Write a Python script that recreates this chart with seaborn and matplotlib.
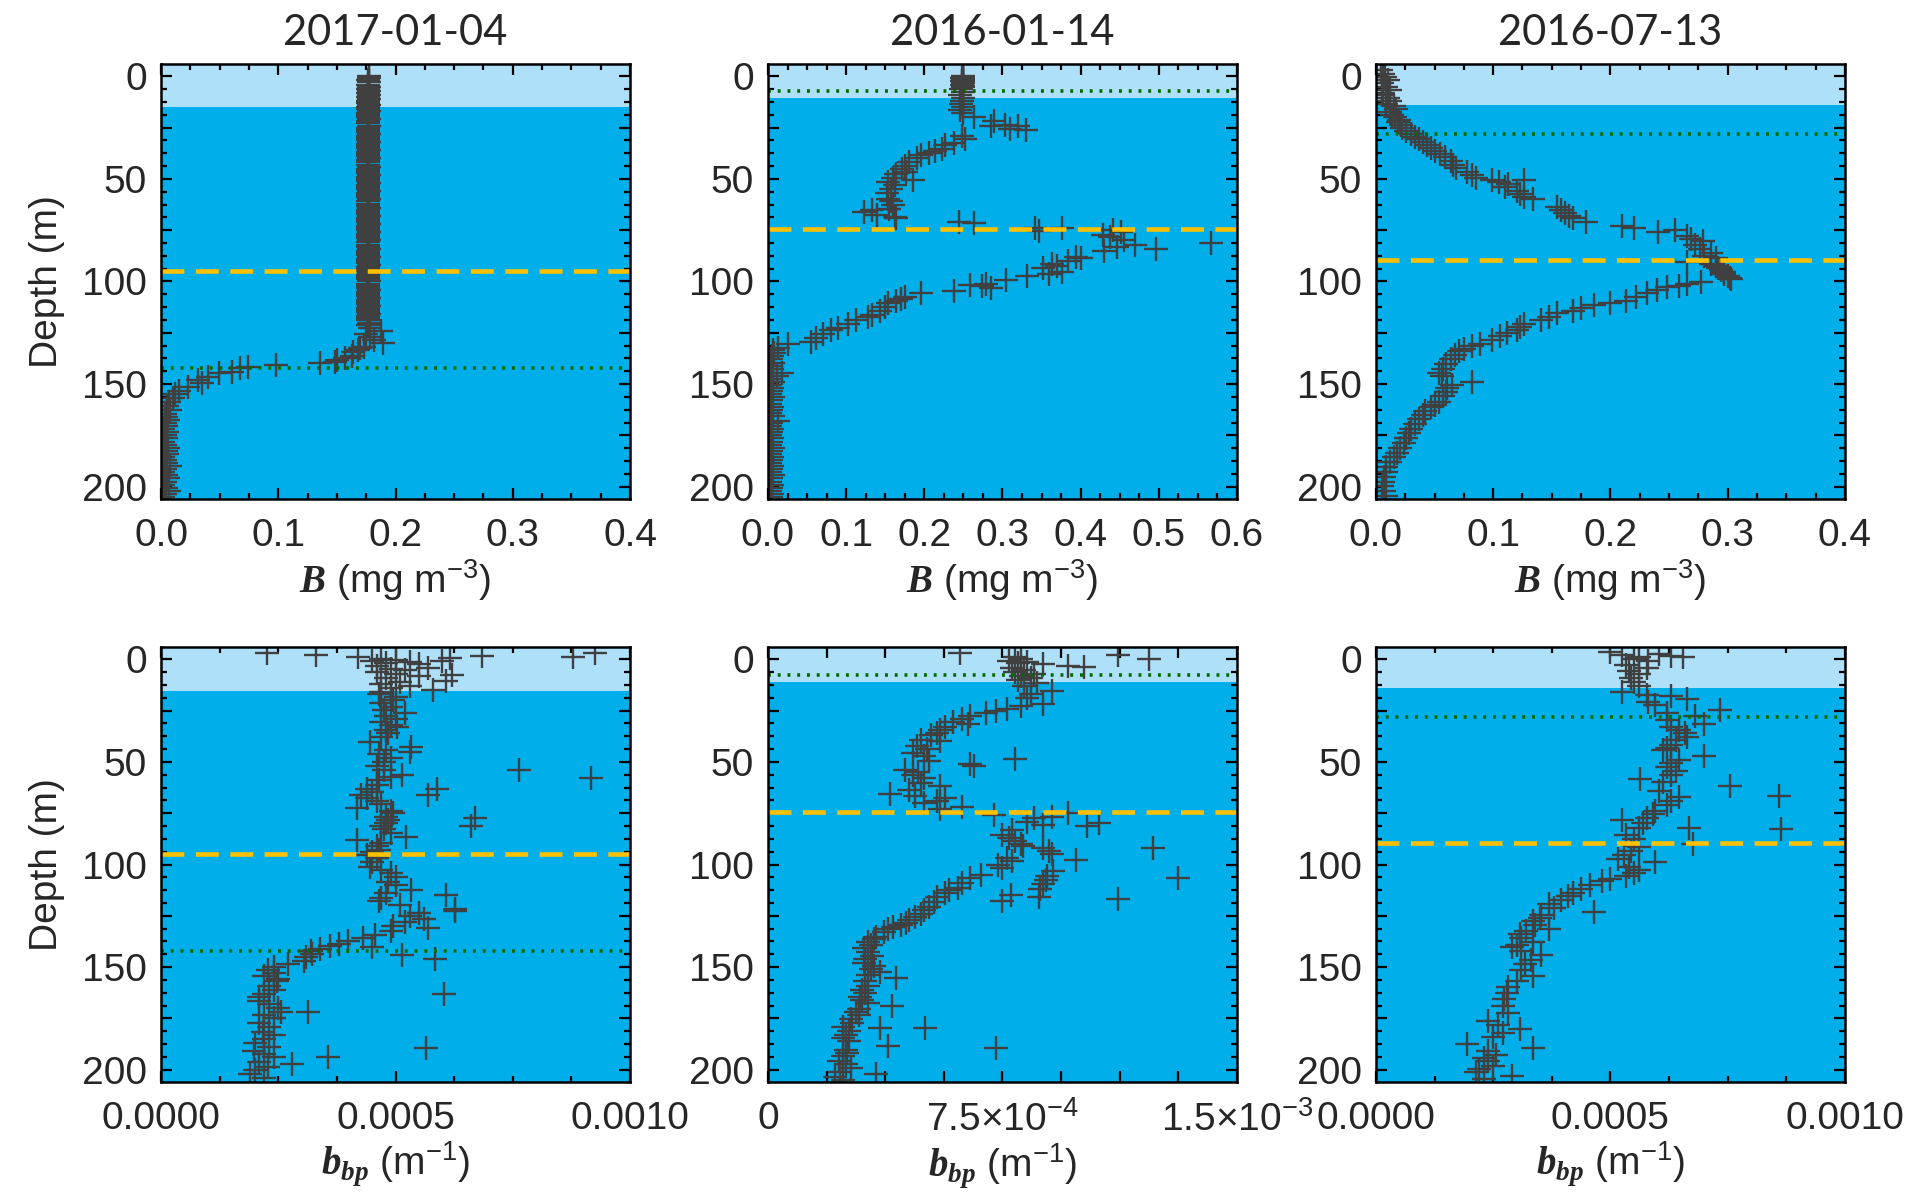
import numpy as np
import pandas as pd
import matplotlib
matplotlib.use("Agg")
import matplotlib.pyplot as plt
from matplotlib.ticker import MultipleLocator, FixedLocator, FuncFormatter
import seaborn as sns

# ---------------------------------------------------------------------------
# Profile dates (columns)
dates = ["2017-01-04", "2016-01-14", "2016-07-13"]

# Layer depths per profile (m)
mixed_layer_depth = [15.2, 10.8, 14.2]   # top light band
yellow_depth = [94.8, 74.6, 89.6]        # dashed line
green_depth = [142.2, 7.4, 28.2]         # dotted line

# ---------------------------------------------------------------------------
# B (mg m-3) profiles
b1_depth = [0, 1, 2, 3, 4, 5, 6, 7, 8, 9, 10, 11, 12, 13, 14, 15, 16, 17, 18, 19,
            20, 21, 22, 23, 24, 25, 26, 27, 28, 29, 30, 31, 32, 33, 34, 35, 36, 37, 38, 39,
            40, 41, 42, 43, 44, 45, 46, 47, 48, 49, 50, 51, 52, 53, 54, 55, 56, 57, 58, 59,
            60, 61, 62, 63, 64, 65, 66, 67, 68, 69, 70, 71, 72, 73, 74, 75, 76, 77, 78, 79,
            80, 81, 82, 83, 84, 85, 86, 87, 88, 89, 90, 91, 92, 93, 94, 95, 96, 97, 98, 99,
            100, 101, 102, 103, 104, 105, 106, 107, 108, 109, 110, 111, 112, 113, 114, 115,
            116, 117, 118, 119, 120, 121,
            122.5, 124.3, 125.5, 127.1, 128.5, 129.9, 131.7, 132.5, 133.6, 134.5, 136.4,
            137.5, 138.3, 139.2, 139.7, 140.5, 141.6, 142.4, 143.9, 144.8, 146.7, 148.0,
            149.5, 151.4, 153.2, 155.0, 157.0, 158.8, 160.7, 162.5, 164.4,
            166.0, 167.5, 169.0, 170.5, 172.0, 173.5, 175.0, 176.5, 178.0, 179.5, 181.0,
            182.5, 184.0, 185.5, 187.0, 188.5, 190.0, 191.5, 193.0, 194.5, 196.0, 197.5,
            199.0, 200.5, 202.0, 203.5, 205.0]
b1_value = [0.177, 0.177, 0.1765, 0.177, 0.1765, 0.177, 0.1765, 0.177, 0.1765, 0.177,
            0.1765, 0.177, 0.1765, 0.1765, 0.177, 0.1765, 0.1765, 0.177, 0.1765, 0.1765,
            0.1765, 0.177, 0.1765, 0.1765, 0.177, 0.1765, 0.1765, 0.1765, 0.177, 0.1765,
            0.1765, 0.1765, 0.177, 0.1765, 0.1765, 0.1765, 0.177, 0.1765, 0.1765, 0.1765,
            0.177, 0.1765, 0.1765, 0.1765, 0.177, 0.1765, 0.1765, 0.1765, 0.177, 0.1765,
            0.1765, 0.1765, 0.177, 0.1765, 0.1765, 0.1765, 0.177, 0.1765, 0.1765, 0.1765,
            0.177, 0.1765, 0.1765, 0.1765, 0.177, 0.1765, 0.1765, 0.1765, 0.177, 0.1765,
            0.1765, 0.1765, 0.177, 0.1765, 0.1765, 0.1765, 0.177, 0.1765, 0.1765, 0.1765,
            0.177, 0.1765, 0.1765, 0.1765, 0.177, 0.1765, 0.1765, 0.1765, 0.177, 0.1765,
            0.1765, 0.1765, 0.177, 0.1765, 0.1765, 0.1765, 0.177, 0.1765, 0.1765, 0.1765,
            0.177, 0.1765, 0.1765, 0.1765, 0.177, 0.1765, 0.1765, 0.1765, 0.177, 0.1765,
            0.1765, 0.1765, 0.177, 0.1765, 0.1765, 0.1765, 0.177, 0.1765, 0.1765, 0.1765,
            0.177, 0.1765,
            0.178, 0.1876, 0.175, 0.1786, 0.182, 0.1894, 0.1733, 0.170, 0.1679, 0.164, 0.1625,
            0.1571, 0.150, 0.148, 0.1356, 0.098, 0.0746, 0.0674, 0.0603, 0.0495, 0.0405, 0.0316,
            0.0352, 0.0226, 0.0154, 0.012, 0.010, 0.0065, 0.0047, 0.008, 0.0036,
            0.004, 0.006, 0.003, 0.004, 0.002, 0.005, 0.003, 0.004, 0.002, 0.003, 0.006,
            0.004, 0.005, 0.002, 0.003, 0.004, 0.008, 0.003, 0.002, 0.004, 0.006, 0.003,
            0.002, 0.004, 0.007, 0.003, 0.002]

b2_depth = [0, 0.5, 1, 1.5, 2, 2.5, 3, 3.5, 4, 4.5, 5,
            6, 7.5, 9, 10.5, 12, 13.5, 15, 16.5, 18,
            19.6, 22.0, 23.5, 24.3, 25.5, 24.3, 26.0, 29.0, 30.5, 32.7, 33.6, 35.5, 36.5,
            37.4, 38.3, 40.0, 42.0, 43.9, 45.0, 46.5, 47.7, 49.5, 50.5, 51.4, 53.0, 55.1,
            57.0, 59.8, 61.0, 62.5, 64.5, 65.4, 66.3, 67.5, 68.6, 69.1,
            71.0, 71.5, 73.8, 73.8, 75.5,
            75.0, 76.0, 77.4, 78.5, 80.0, 81.2, 82.2, 83.2, 84.1, 85.0, 87.9, 88.5, 89.8,
            91.7, 92.5, 93.6, 95.4, 96.5, 97.3, 99.2, 101.1, 102.0, 101.5, 103.0, 104.8,
            105.8, 107.7, 108.5, 109.6, 110.5, 112.5, 114.3, 116.2, 117.5, 119.0, 120.9,
            122.5, 123.7, 125.6, 127.5, 129.3, 130.5, 132.2, 133.5, 135.0,
            136.5, 138.0, 139.5, 141.0, 142.5, 144.4, 146.0, 147.5, 149.0, 150.5, 152.0,
            153.5, 155.0, 156.5, 158.0, 159.5, 161.0, 162.5, 164.0, 165.5, 167.8, 169.0,
            170.5, 172.0, 173.5, 175.0, 176.5, 178.0, 179.5, 181.0, 182.5, 184.0, 185.5,
            187.0, 188.5, 190.0, 191.5, 193.0, 194.5, 196.0, 197.5, 199.0, 200.5, 202.0,
            203.5, 205.0]
b2_value = [0.249, 0.249, 0.2485, 0.249, 0.249, 0.2485, 0.249, 0.249, 0.2485, 0.249, 0.249,
            0.247, 0.249, 0.246, 0.250, 0.248, 0.247, 0.249, 0.246, 0.250,
            0.2636, 0.2897, 0.303, 0.320, 0.310, 0.2855, 0.330, 0.248, 0.252, 0.2375, 0.227,
            0.222, 0.214, 0.206, 0.196, 0.190, 0.180, 0.175, 0.172, 0.176, 0.164, 0.160,
            0.186, 0.154, 0.162, 0.157, 0.152, 0.154, 0.158, 0.160, 0.155, 0.133, 0.1227,
            0.140, 0.162, 0.164,
            0.245, 0.2636, 0.342, 0.376, 0.347,
            0.441, 0.451, 0.428, 0.437, 0.455, 0.567, 0.470, 0.446, 0.496, 0.430, 0.394,
            0.400, 0.384, 0.363, 0.370, 0.352, 0.376, 0.360, 0.331, 0.305, 0.279, 0.274,
            0.258, 0.285, 0.2375, 0.196, 0.175, 0.170, 0.164, 0.154, 0.150, 0.1435, 0.133,
            0.128, 0.1122, 0.1018, 0.090, 0.0809, 0.070, 0.062, 0.0548, 0.025, 0.013,
            0.006, 0.0078,
            0.005, 0.004, 0.006, 0.003, 0.005, 0.018, 0.012, 0.004, 0.006, 0.003, 0.005,
            0.004, 0.003, 0.006, 0.004, 0.003, 0.005, 0.004, 0.003, 0.006, 0.013, 0.004,
            0.003, 0.005, 0.004, 0.003, 0.005, 0.004, 0.003, 0.006, 0.004, 0.003, 0.005,
            0.004, 0.003, 0.005, 0.004, 0.003, 0.006, 0.004, 0.003, 0.005, 0.004, 0.003,
            0.005, 0.004]

b3_depth = [-3, -1, 0.5, 2, 3.5, 5, 6.5, 8, 9.3, 10.5, 12.1, 13.5, 14.5, 15.9, 17.3, 18.7,
            20, 21.2, 22.4, 23.8, 25.2, 26.5, 28, 29.5, 30.8, 32.2, 33.6, 35, 36.5, 38, 39.3,
            41.2, 43, 44.9, 46.8, 48, 49.6, 50.5, 51.5, 52.4, 50.5, 54, 56.1, 57.5, 58.9, 60,
            63.6, 65, 66.4, 68, 69, 71, 72.9, 73.8, 75.7, 74.8, 78, 79.4, 80.5, 82, 84.1, 86,
            87.5, 88.5, 90.7, 91.7, 92.5, 93.6, 94.5, 95.5, 96.4, 97.3, 98.2, 99, 100.1, 101,
            102, 102.9, 104, 105.8, 107.5, 109.5, 110.5, 111.4, 112.8, 114.2, 115.2, 117.1,
            119, 120.9, 122.3, 123.7, 125, 126.5, 128.4, 130.3, 131.5, 132.8, 134.1, 136,
            137.9, 140, 142.5, 144.4, 146, 149.1, 150.5, 151.9, 153.8, 155.7, 158.5, 160,
            161.3, 163.2, 165, 167, 169.5, 171.7, 174, 176.3, 178.5, 181, 183.5, 185.7, 188,
            190.4, 192.8, 195.1, 197.5, 199.8, 202, 204.5]
b3_value = [0.004, 0.006, 0.008, 0.0104, 0.005, 0.0087, 0.012, 0.006, 0.005, 0.010, 0.012,
            0.009, 0.015, 0.0174, 0.012, 0.0139, 0.016, 0.020, 0.019, 0.021, 0.0226, 0.026,
            0.0295, 0.033, 0.0365, 0.040, 0.0434, 0.047, 0.0503, 0.055, 0.059, 0.064, 0.066,
            0.068, 0.078, 0.082, 0.085, 0.099, 0.105, 0.1128, 0.1267, 0.110, 0.120, 0.123,
            0.1267, 0.1336, 0.1545, 0.158, 0.1614, 0.165, 0.168, 0.179, 0.210, 0.220, 0.241,
            0.255, 0.265, 0.269, 0.279, 0.272, 0.276, 0.286, 0.280, 0.290, 0.2655, 0.286,
            0.290, 0.2915, 0.294, 0.297, 0.2967, 0.300, 0.302, 0.303, 0.2776, 0.265, 0.2585,
            0.248, 0.240, 0.2308, 0.222, 0.2134, 0.1995, 0.1856, 0.175, 0.168, 0.1545, 0.1475,
            0.1405, 0.1267, 0.123, 0.120, 0.112, 0.106, 0.099, 0.0885, 0.0816, 0.075, 0.0711,
            0.0677, 0.0642, 0.060, 0.0573, 0.0538, 0.056, 0.0816, 0.065, 0.0607, 0.060,
            0.0573, 0.0538, 0.050, 0.0469, 0.0417, 0.040, 0.0365, 0.033, 0.0295, 0.028, 0.026,
            0.024, 0.0208, 0.018, 0.0156, 0.012, 0.0087, 0.009, 0.007, 0.006, 0.0052, 0.007,
            0.0087]

# ---------------------------------------------------------------------------
# bbp (m-1) profiles
p1_depth = [-3, -2, -1, 0, 0.5, 1, 1.5, 2, -1.5, -1, -3, -0.5, 1, 2.5, 3, 4, 4.5, 5, 6, 7,
            7.5, 8, 9, 10.5, 11, 12, 13, 14, 15,
            16, 17, 18.5, 20, 21.5, 23, 24.5, 26, 27.5, 29, 30.5, 32, 33, 34.5, 36, 38, 40.5,
            42.5, 44, 46, 48, 50, 52, 54, 56.5, 57.5, 59, 61, 63, 64.5, 66, 67.5, 69, 70.5,
            72.5, 74, 75, 77, 78.5, 80, 81, 82.7, 84.5, 86.5, 88, 89.5, 91, 92.7, 94, 95.5,
            97, 99, 101, 102.5, 104, 106, 108.5, 110, 112.5, 114, 115, 116.5, 118, 119.5,
            121.5, 123.5, 125, 126.5, 128, 130, 131, 132.5, 134.5, 136, 137.5, 138.5, 139.5,
            141, 142, 143.5, 145, 147, 148.5, 150, 151.5, 153, 154.5, 156, 157, 159, 161, 163,
            164.5, 166.5, 168, 170, 172, 173.5, 175, 177, 179, 181.5, 183, 185, 187, 189,
            191, 192.5, 194, 196, 198.5, 200, 202, 204,
            54, 58, 66, 63, 77.5, 81, 122.5, 146, 163, 189.5, 144, 194, 172, 197, 140, 45]
p1_value = [0.000226, 0.00033, 0.00042, 0.00047, 0.00050, 0.00045, 0.00053, 0.00048,
            0.000684, 0.000878, 0.000926, 0.000617, 0.00060, 0.00055, 0.00046, 0.00057,
            0.00049, 0.00052, 0.00046, 0.00050, 0.00062, 0.00055, 0.00048, 0.000608, 0.00051,
            0.00047, 0.00053, 0.00049, 0.00058,
            0.00047, 0.000465, 0.00050, 0.000494, 0.00047, 0.00049, 0.000475, 0.00052,
            0.00048, 0.00050, 0.00047, 0.00049, 0.000503, 0.00048, 0.000484, 0.00047,
            0.000446, 0.000532, 0.00048, 0.000465, 0.00049, 0.000475, 0.00046, 0.000475,
            0.000513, 0.00049, 0.000465, 0.00046, 0.00044, 0.00045, 0.000427, 0.00044,
            0.00046, 0.00047, 0.000418, 0.00049, 0.000494, 0.00048, 0.000484, 0.00048,
            0.00047, 0.000475, 0.00049, 0.000522, 0.000418, 0.00047, 0.00046, 0.000465,
            0.00045, 0.00044, 0.00046, 0.00045, 0.000446, 0.00047, 0.00049, 0.00050,
            0.000484, 0.00050, 0.000532, 0.00048, 0.000608, 0.00047, 0.000465, 0.00051,
            0.000627, 0.000551, 0.00053, 0.00056, 0.00052, 0.000494, 0.000570, 0.00049,
            0.000456, 0.00043, 0.000399, 0.00038, 0.000361, 0.00034, 0.00032, 0.000323,
            0.00031, 0.000304, 0.00027, 0.00024, 0.000228, 0.00024, 0.00022, 0.00025,
            0.000247, 0.00023, 0.00024, 0.00022, 0.00021, 0.000209, 0.00023, 0.00025,
            0.000256, 0.00022, 0.00024, 0.00021, 0.00023, 0.000218, 0.00024, 0.00022,
            0.00020, 0.00023, 0.000199, 0.00022, 0.00024, 0.00021, 0.000228, 0.00020,
            0.00019, 0.00022,
            0.000764, 0.000916, 0.00057, 0.000589, 0.00067, 0.00066, 0.000627, 0.000584,
            0.000603, 0.000565, 0.000513, 0.000356, 0.000313, 0.00028, 0.00045, 0.00053]

p2_depth = [-3, -2, 0, -1, 0, 1, 1.5, 2, 2.5, 3, 3.5, 4, 5, 6, 7, 8, 9, 10, 11.5, 13,
            15.5, 17, 19, 21.6, 22.5, 24.2, 25, 26, 27.8, 29, 30.4, 31.5, 33.2, 34.5, 35.8,
            37, 39.4, 40, 42.1, 43.5, 45.8, 47, 48.5, 49.4, 51.2, 52, 54, 55, 56.6, 58, 60.3,
            61.5, 63.9, 65.7, 66.5, 67.6, 69, 70, 72.1, 73, 75.8, 76.7, 74.9, 77.5, 79.4,
            80.5, 81.2, 80, 83, 85.7, 87, 88.5, 90, 91.2, 92, 93.5, 94.9, 96.7, 97.6, 98.5,
            100.4, 101.5, 92.1, 106.7, 103, 105.8, 107.5, 109.5, 112, 115.9, 115, 117.7,
            116.8, 105, 106.7, 109, 111.3, 112.5, 114.1, 116, 118.5, 120.5, 122.3, 124.2,
            125.5, 126.9, 128.3, 129.7, 130.5, 131.5, 133, 135.2, 136.5, 138, 139.2, 140.7,
            142.5, 144.4, 146, 148, 149.5, 151, 152.6, 154, 155.3, 157, 159, 161, 162.5,
            164.5, 166, 167.5, 169, 170.5, 171.8, 173.5, 175.5, 177, 179.1, 179.5, 179.8,
            181, 183, 184.6, 186, 188.3, 189.2, 190.5, 191.9, 193.5, 195.6, 197, 199.3, 201,
            202, 203.5, 205]
p2_value = [0.000613, 0.00112, 0.00122, 0.00079, 0.00081, 0.00077, 0.00083, 0.00080,
            0.00088, 0.000959, 0.00101, 0.00078, 0.00082, 0.00079, 0.00085, 0.00081,
            0.00084, 0.00080, 0.00086, 0.00082,
            0.000907, 0.00084, 0.000828, 0.00088, 0.00081, 0.000763, 0.00073, 0.000698,
            0.000646, 0.00062, 0.000593, 0.00064, 0.000567, 0.00055, 0.000541, 0.00052,
            0.000489, 0.00055, 0.000476, 0.00051, 0.000463, 0.00050, 0.000789, 0.000515,
            0.000646, 0.00066, 0.000437, 0.00048, 0.000463, 0.00050, 0.000489, 0.00055,
            0.000450, 0.000391, 0.00047, 0.000567, 0.00054, 0.00050, 0.00062, 0.00055,
            0.000724, 0.000907, 0.000959, 0.00085, 0.000828, 0.00088, 0.00102, 0.00106,
            0.00078, 0.00075, 0.00077, 0.000789, 0.00081, 0.000815, 0.00088, 0.00090,
            0.000907, 0.000763, 0.000985, 0.00078, 0.000737, 0.00075, 0.00123, 0.00131,
            0.00091, 0.000893, 0.00089, 0.00088, 0.00087, 0.000867, 0.000776, 0.00075,
            0.00112, 0.00068, 0.000646, 0.00062, 0.000607, 0.00058, 0.000567, 0.00054,
            0.00053, 0.000515, 0.00050, 0.000489, 0.00047, 0.00045, 0.00044, 0.000424,
            0.00040, 0.000385, 0.00037, 0.000346, 0.00034, 0.00032, 0.00033, 0.000307,
            0.00032, 0.000333, 0.00031, 0.000307, 0.00034, 0.00033, 0.000359, 0.00032,
            0.000411, 0.00031, 0.00032, 0.00030, 0.00031, 0.000293, 0.00030, 0.00032,
            0.000398, 0.00029, 0.00028, 0.00029, 0.000267, 0.00027, 0.000241, 0.000359,
            0.000502, 0.00026, 0.00025, 0.000241, 0.00026, 0.000385, 0.00073, 0.00025,
            0.000254, 0.00024, 0.000228, 0.00025, 0.000267, 0.00023, 0.000346, 0.000215,
            0.00024]

p3_depth = [-3.4, -2, -1, -2.5, -1.5, -1, 0, 1, 2.8, 4, 5.5, 7, 9.3, 11, 13, 15.8, 17.6,
            18, 19.5, 21, 22.3, 24.9, 26, 27.5, 29.6, 31.5, 33, 34.2, 36, 37.9, 39.5, 41.6,
            43, 44.3, 47, 49, 50.5, 52.6, 54.5, 56.3, 58.1, 59.9, 61.8, 66.4, 67.3, 64, 69,
            71, 73.7, 75.5, 77.4, 78.3, 80, 82, 82, 82.9, 85.6, 87.5, 89.9, 91.5, 93.5, 95.5,
            97.2, 99, 101, 102.7, 104, 105.5, 107, 108.2, 110.1, 111.9, 113.7, 115.5, 117.4,
            119.3, 121, 122.9, 124.8, 126, 127.5, 129.5, 131.2, 132.5, 134, 135.8, 137.6,
            139, 140.4, 142, 144, 146.5, 148.7, 151.5, 154.2, 157, 159.7, 162.5, 165.3, 169,
            172.6, 176.3, 178, 180, 182, 184, 187.4, 189.2, 191, 192.9, 194.2, 195.6, 198,
            199.5, 201.2, 203, 204.5]
p3_value = [0.000499, 0.000525, 0.00056, 0.000603, 0.000629, 0.000655, 0.00055, 0.00058,
            0.000534, 0.000577, 0.00054, 0.00056, 0.000543, 0.00055, 0.00056, 0.000525,
            0.000577, 0.000629, 0.000664, 0.00058, 0.000595, 0.000733, 0.00062, 0.000681,
            0.00062, 0.000699, 0.00063, 0.000647, 0.00066, 0.000664, 0.00064, 0.000629,
            0.00062, 0.000612, 0.000699, 0.000647, 0.00063, 0.00062, 0.00064, 0.000629,
            0.000564, 0.000612, 0.000755, 0.000859, 0.000647, 0.000603, 0.00063, 0.00062,
            0.000595, 0.00059, 0.000577, 0.000525, 0.00057, 0.00056, 0.000668, 0.000864,
            0.000534, 0.00055, 0.000677, 0.00056, 0.000543, 0.00053, 0.000516, 0.000595,
            0.00054, 0.00056, 0.00055, 0.000534, 0.0005, 0.000482, 0.000456, 0.000438,
            0.000421, 0.00041, 0.000395, 0.000369, 0.00038, 0.000464, 0.000352, 0.00035,
            0.000334, 0.00034, 0.000369, 0.00032, 0.000308, 0.00031, 0.000334, 0.0003,
            0.000291, 0.00031, 0.000352, 0.00033, 0.000317, 0.00031, 0.000334, 0.0003,
            0.000282, 0.00028, 0.000273, 0.00027, 0.000282, 0.000239, 0.00026, 0.000308,
            0.00027, 0.00025, 0.000195, 0.000334, 0.00024, 0.000256, 0.00023, 0.000239,
            0.00025, 0.00022, 0.000213, 0.000291, 0.00023]

# ---------------------------------------------------------------------------
b_profiles = [(b1_depth, b1_value), (b2_depth, b2_value), (b3_depth, b3_value)]
bbp_profiles = [(p1_depth, p1_value), (p2_depth, p2_value), (p3_depth, p3_value)]

deep_blue = "#00AEEA"
light_blue = "#AEE0FA"
marker_color = "#404040"
yellow = "#FFC000"
green = "#006B00"

sns.set_theme(style="ticks")
plt.rcParams["font.family"] = ["Liberation Sans", "DejaVu Sans"]
plt.rcParams["mathtext.fontset"] = "custom"
plt.rcParams["mathtext.rm"] = "Liberation Sans"
plt.rcParams["mathtext.it"] = "Liberation Sans:italic"
plt.rcParams["mathtext.bf"] = "Liberation Serif:italic:bold"

FS = 28
fig = plt.figure(figsize=(19.19, 11.96), dpi=100)

col_left = [0.0839, 0.4002, 0.7170]
row_bottom = [0.5828, 0.0953]
ax_w, ax_h = 0.2444, 0.3637
y_top, y_bot = -6.0, 206.0


def style_panel(ax, col, xlim):
    ax.set_facecolor(deep_blue)
    ax.axhspan(y_top, mixed_layer_depth[col], color=light_blue, lw=0, zorder=0)
    ax.set_ylim(y_bot, y_top)
    ax.set_xlim(*xlim)
    ax.yaxis.set_major_locator(MultipleLocator(25))
    ax.yaxis.set_minor_locator(MultipleLocator(6.25))
    ax.yaxis.set_major_formatter(FuncFormatter(
        lambda v, p: f"{int(round(v))}" if abs(v % 50) < 1e-6 else ""))
    ax.tick_params(which="both", direction="in", top=True, right=True,
                   labelsize=FS, width=1.6, color="black")
    ax.tick_params(which="major", length=8)
    ax.tick_params(which="minor", length=4)
    ax.tick_params(axis="y", pad=10)
    ax.tick_params(axis="x", pad=14)
    for s in ax.spines.values():
        s.set_linewidth(1.8)
        s.set_color("black")
        s.set_zorder(10)
    ax.axhline(yellow_depth[col], color=yellow, lw=3.3,
               linestyle=(0, (5, 2.5)), zorder=6)
    ax.axhline(green_depth[col], color=green, lw=2.6,
               linestyle=(0, (0.8, 1.9)), zorder=6)


def draw_points(ax, depth, value):
    df = pd.DataFrame({"value": value, "depth": depth})
    sns.scatterplot(data=df, x="value", y="depth", ax=ax, marker="+", s=290,
                    color=marker_color, linewidth=1.7, zorder=5, legend=False)


# Top row: B
b_xlims = [(0, 0.4), (0, 0.6), (0, 0.4)]
for col in range(3):
    ax = fig.add_axes([col_left[col], row_bottom[0], ax_w, ax_h])
    draw_points(ax, *b_profiles[col])
    style_panel(ax, col, b_xlims[col])
    ax.xaxis.set_major_locator(MultipleLocator(0.1))
    ax.xaxis.set_minor_locator(MultipleLocator(0.025))
    ax.xaxis.set_major_formatter(FuncFormatter(lambda v, p: f"{v:.1f}"))
    ax.set_xlabel(r"$\mathbf{B}$ (mg m$^{-3}$)", fontsize=FS, labelpad=2)
    ax.set_ylabel("Depth (m)" if col == 0 else "", fontsize=FS, labelpad=12)
    ax.set_title(dates[col], fontsize=30, fontfamily="Lato", pad=14)

# Bottom row: bbp
for col in range(3):
    ax = fig.add_axes([col_left[col], row_bottom[1], ax_w, ax_h])
    draw_points(ax, *bbp_profiles[col])
    if col == 1:
        style_panel(ax, col, (0, 0.0015))
        ax.xaxis.set_major_locator(FixedLocator(
            [0, 1.875e-4, 3.75e-4, 5.625e-4, 7.5e-4, 9.375e-4, 1.125e-3, 1.3125e-3, 1.5e-3]))
        labels = {0: "0", 4: r"7.5$\times$10$^{-4}$", 8: r"1.5$\times$10$^{-3}$"}
        ax.xaxis.set_major_formatter(FuncFormatter(
            lambda v, p: labels.get(int(round(v / 1.875e-4)), "")))
    else:
        style_panel(ax, col, (0, 0.001))
        ax.xaxis.set_major_locator(MultipleLocator(0.0005))
        ax.xaxis.set_minor_locator(MultipleLocator(0.000125))
        ax.xaxis.set_major_formatter(FuncFormatter(lambda v, p: f"{v:.4f}"))
    ax.set_xlabel(r"$\mathbf{b_{bp}}$ (m$^{-1}$)", fontsize=FS, labelpad=2)
    ax.set_ylabel("Depth (m)" if col == 0 else "", fontsize=FS, labelpad=12)

fig.savefig("out.png", dpi=100)
